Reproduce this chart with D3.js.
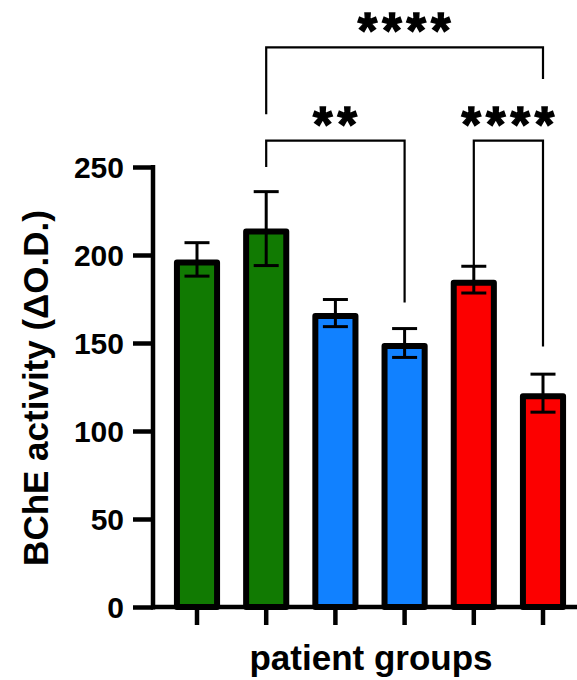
<!DOCTYPE html>
<html lang="en">
<head>
    <meta charset="UTF-8">
    <title>BChE activity by patient group</title>
    <script src="https://d3js.org/d3.v7.min.js"></script>
    <style>
        body { margin: 0; background: #fff; }
        text { font-family: Arial, "Liberation Sans", sans-serif; font-weight: bold; fill: #000; }
    </style>
</head>
<body>
<div id="chart"></div>

<script>
    // Data
    const groups = ["G1", "G2", "G3", "G4", "G5", "G6"];
    const means = [197.5, 215, 167, 150, 186, 121.5];
    const errors = [9.5, 21, 7.7, 8.2, 7.6, 10.8];
    const colors = ["#117a02", "#117a02", "#1181ff", "#1181ff", "#fc0000", "#fc0000"];
    const yTicks = [0, 50, 100, 150, 200, 250];
    // significance brackets: [from group, to group, label, bracket value, left leg end, right leg end]
    const brackets = [
        ["G2", "G6", "****", 318, 280, 300],
        ["G2", "G4", "**", 265, 250, 173],
        ["G5", "G6", "****", 265, 194, 148]
    ];

    const W = 577, H = 680;
    const left = 153, y0 = 607, yTop = 167;

    const svg = d3.select('#chart')
        .append('svg')
        .attr('width', W)
        .attr('height', H);

    const x = d3.scaleBand().domain(groups).range([162.4, 577.6]).paddingInner(0.42).paddingOuter(0.21);
    const y = d3.scaleLinear().domain([0, 250]).range([y0, yTop]);
    const cx = g => x(g) + x.bandwidth() / 2;

    // Bars
    const sw = 6;
    svg.append('g').selectAll('rect')
        .data(groups)
        .join('rect')
        .attr('x', d => x(d))
        .attr('y', (d, i) => y(means[i]) + sw / 2)
        .attr('width', x.bandwidth())
        .attr('height', (d, i) => y0 - y(means[i]) - sw / 2)
        .attr('fill', (d, i) => colors[i])
        .attr('stroke', '#000')
        .attr('stroke-width', sw)
        .attr('stroke-linejoin', 'round');

    // Error bars
    const eb = svg.append('g').attr('stroke', '#000').attr('stroke-width', 3);
    groups.forEach((g, i) => {
        const c = cx(g);
        eb.append('line').attr('x1', c).attr('x2', c)
            .attr('y1', y(means[i] + errors[i])).attr('y2', y(means[i] - errors[i]));
        [means[i] + errors[i], means[i] - errors[i]].forEach(v => {
            eb.append('line').attr('x1', c - 12.5).attr('x2', c + 12.5)
                .attr('y1', y(v)).attr('y2', y(v));
        });
    });

    // Y axis
    const yAxis = svg.append('g')
        .attr('transform', `translate(${left},0)`)
        .call(d3.axisLeft(y).tickValues(yTicks).tickSize(20).tickPadding(9));
    yAxis.select('.domain').attr('stroke-width', 4.5).attr('d', `M0,${y0 + 2.5}V${yTop - 2}`);
    yAxis.selectAll('.tick line').attr('stroke-width', 4.5);
    yAxis.selectAll('.tick text').style('font-size', '30px').style('font-weight', 'bold')
        .style('font-family', 'Arial, "Liberation Sans", sans-serif').attr('dy', '0.36em');

    // X axis
    const xAxis = svg.append('g')
        .attr('transform', `translate(0,${y0})`)
        .call(d3.axisBottom(x).tickSize(18).tickFormat(''));
    xAxis.select('.domain').attr('stroke-width', 4.5).attr('d', `M${left - 2},0H${W}`);
    xAxis.selectAll('.tick line').attr('stroke-width', 4.5);

    // Axis titles
    svg.append('text')
        .attr('x', 371).attr('y', 670)
        .attr('text-anchor', 'middle')
        .style('font-size', '35px')
        .text('patient groups');

    svg.append('text')
        .attr('transform', 'translate(48,388) rotate(-90)')
        .attr('text-anchor', 'middle')
        .style('font-size', '35px')
        .text('BChE activity (ΔO.D.)');

    // Significance brackets
    const br = svg.append('g');
    brackets.forEach(b => {
        const x1 = cx(b[0]), x2 = cx(b[1]);
        br.append('path')
            .attr('d', `M${x1},${y(b[4])}V${y(b[3])}H${x2}V${y(b[5])}`)
            .attr('fill', 'none')
            .attr('stroke', '#000')
            .attr('stroke-width', 2.2);
        br.append('text')
            .attr('x', (x1 + x2) / 2 + 2)
            .attr('y', y(b[3]) + 1)
            .attr('text-anchor', 'middle')
            .style('font-size', '50px')
            .style('letter-spacing', '5px')
            .style('stroke', '#000')
            .style('stroke-width', 1.4)
            .text(b[2]);
    });
</script>

</body>
</html>
